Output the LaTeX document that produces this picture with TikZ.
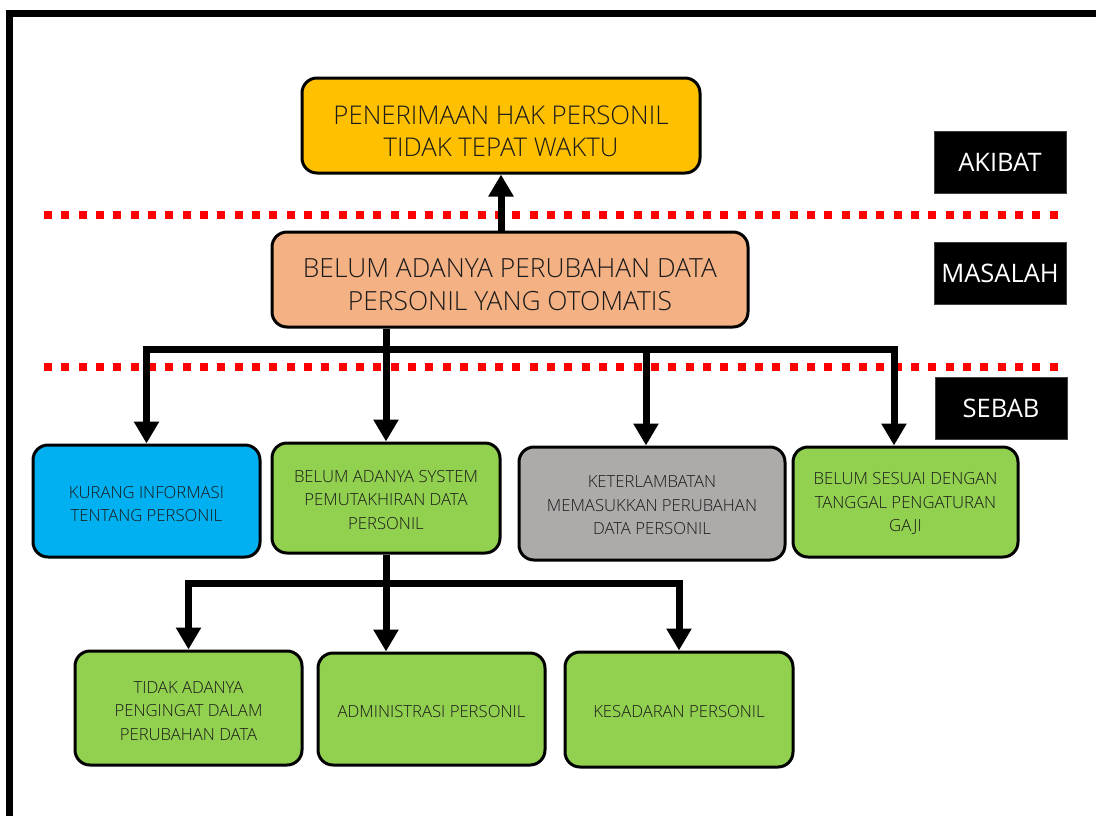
\documentclass[tikz,border=0pt]{standalone}
\usepackage{fontspec}
\setmainfont{Open Sans}
\IfFontExistsTF{Open Sans Light}
  {\newfontfamily\boxfont{Open Sans Light}}
  {\newfontfamily\boxfont{Open Sans}}
\usetikzlibrary{arrows.meta}
\definecolor{gold}{HTML}{FFC000}
\definecolor{peach}{HTML}{F4B183}
\definecolor{sky}{HTML}{00B0F0}
\definecolor{leaf}{HTML}{92D050}
\definecolor{stone}{HTML}{AEAAAA}
\definecolor{ink}{HTML}{1A1A1A}

\begin{document}
\begin{tikzpicture}[x=1pt,y=-1pt,
  box/.style={draw=black, line width=3pt, rounded corners=15pt, inner sep=0pt},
  words/.style={inner sep=0pt, align=center, text=ink},
  bigwords/.style={words, font=\boxfont\fontsize{25.8}{32}\selectfont},
  midwords/.style={words, font=\boxfont\fontsize{26.4}{33}\selectfont},
  smallwords/.style={words, font=\boxfont\fontsize{16.7}{23.5}\selectfont},
  tag/.style={fill=black, draw=black!75, line width=1pt, text=white, minimum width=132pt, minimum height=62pt, font=\fontsize{25.5}{30}\selectfont, inner sep=0pt},
  link/.style={line width=7pt, line join=miter},
  arr/.style={link, -{Triangle[width=24pt,length=22pt]}},
  boundary/.style={red, line width=8pt, dash pattern=on 8pt off 9.34pt}]

\useasboundingbox (0,0) rectangle (1096,815);

% outer frame (top and left edges)
\draw[line width=7pt, line join=miter] (9.5,822) -- (9.5,13.5) -- (1104,13.5);

% layer separators
\draw[boundary] (44,215) -- (1058,215);
\draw[boundary] (44,367) -- (1058,367);

% layer tags
\node[tag] (akibat)  at (1000,162) {AKIBAT};
\node[tag] (masalah) at (1000,273) {MASALAH};
\node[tag] (sebab)   at (1001,408) {SEBAB};

% effect and problem
\node[box, fill=gold, minimum width=398pt, minimum height=95pt] (top) at (501,125.5) {};
\node[bigwords] (top-t) at ([yshift=-6pt]top.center) {PENERIMAAN HAK PERSONIL\\TIDAK TEPAT WAKTU};
\node[box, fill=peach, minimum width=476pt, minimum height=95pt] (mas) at (510,279.5) {};
\node[midwords] (mas-t) at ([yshift=-5pt]mas.center) {BELUM ADANYA PERUBAHAN DATA\\PERSONIL YANG OTOMATIS};

% causes
\node[box, fill=sky, minimum width=227pt, minimum height=112pt] (b1) at (146.5,501) {};
\node[smallwords] (b1-t) at ([yshift=-3pt]b1.center) {KURANG INFORMASI\\TENTANG PERSONIL};
\node[box, fill=leaf, minimum width=228pt, minimum height=110pt] (b2) at (386,498) {};
\node[smallwords] (b2-t) at ([yshift=-2pt]b2.center) {BELUM ADANYA SYSTEM\\PEMUTAKHIRAN DATA\\PERSONIL};
\node[box, fill=stone, minimum width=266pt, minimum height=113pt] (b3) at (652,503.5) {};
\node[smallwords] (b3-t) at ([yshift=-2pt]b3.center) {KETERLAMBATAN\\MEMASUKKAN PERUBAHAN\\DATA PERSONIL};
\node[box, fill=leaf, minimum width=225pt, minimum height=110pt] (b4) at (905.5,502) {};
\node[smallwords] (b4-t) at ([yshift=-1.5pt]b4.center) {BELUM SESUAI DENGAN\\TANGGAL PENGATURAN\\GAJI};

% sub-causes
\node[box, fill=leaf, minimum width=227pt, minimum height=114pt] (c1) at (188.5,708) {};
\node[smallwords] (c1-t) at ([yshift=-3pt]c1.center) {TIDAK ADANYA\\PENGINGAT DALAM\\PERUBAHAN DATA};
\node[box, fill=leaf, minimum width=227pt, minimum height=112pt] (c2) at (431.5,709) {};
\node[smallwords] (c2-t) at ([yshift=-3pt]c2.center) {ADMINISTRASI PERSONIL};
\node[box, fill=leaf, minimum width=228pt, minimum height=115pt] (c3) at (679,709.5) {};
\node[smallwords] (c3-t) at ([yshift=-2.5pt]c3.center) {KESADARAN PERSONIL};

% bus levels and off-centre drop points
\coordinate (bus1) at (0,349);
\coordinate (bus2) at (0,583);
\coordinate (drop3) at (646,0);
\coordinate (drop4) at (894,0);

% problem -> effect
\draw[arr] (top.south |- mas.north) -- (top.south);

% problem -> causes
\draw[arr] (mas.south -| b2.north) -- (b2.north);
\draw[arr] (b2.north |- bus1) -- (b1.north |- bus1) -- (b1.north);
\draw[arr] (b2.north |- bus1) -- (drop4 |- bus1) -- (drop4 |- b4.north);
\draw[arr] (drop3 |- bus1) -- (drop3 |- b3.north);

% cause -> sub-causes
\draw[arr] (b2.south) -- (b2.south |- c2.north);
\draw[arr] (b2.south |- bus2) -- (c1.north |- bus2) -- (c1.north);
\draw[arr] (b2.south |- bus2) -- (c3.north |- bus2) -- (c3.north);
\end{tikzpicture}
\end{document}
